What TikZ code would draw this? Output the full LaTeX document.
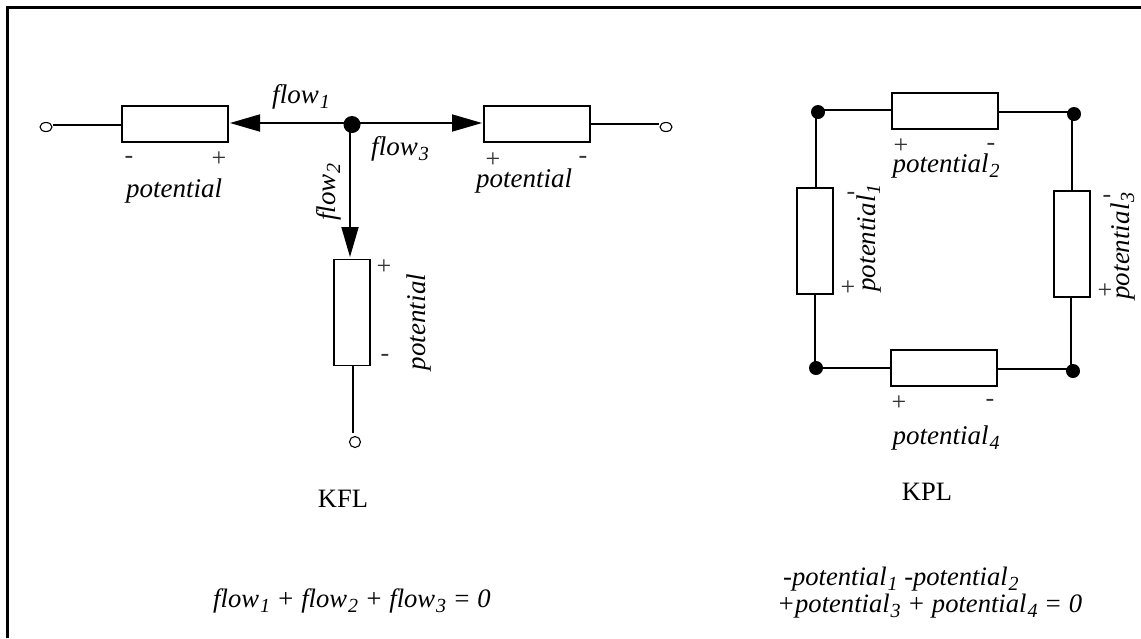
\documentclass[tikz,border=0pt]{standalone}
\usepackage{fontspec}
\setmainfont{Liberation Serif}
\usetikzlibrary{arrows.meta,shapes.geometric}
\newcommand\subs[1]{\kern1pt\raisebox{-5pt}{\fontsize{20}{20}\selectfont #1}}
\tikzset{
  x=1pt,y=-1pt,
  wire/.style={line width=1.8pt,line cap=butt},
  box/.style={draw,line width=1.8pt,fill=white,inner sep=0pt},
  hbox/.style={box,minimum width=106pt,minimum height=36pt},
  vbox/.style={box,minimum width=36pt,minimum height=106pt},
  dot/.style={circle,fill=black,inner sep=0pt,minimum size=17pt},
  sdot/.style={circle,fill=black,inner sep=0pt,minimum size=14pt},
  port/.style={ellipse,draw,line width=1.1pt,fill=white,inner sep=0pt,minimum width=12pt,minimum height=9pt},
  it/.style={inner sep=0pt,anchor=base,font=\fontsize{27}{30}\selectfont\itshape},
  eqn/.style={inner sep=0pt,font=\fontsize{26.6}{30}\selectfont\itshape},
  sign/.style={inner sep=0pt,font=\fontsize{26}{28}\selectfont,text=black!80},
  rm/.style={inner sep=0pt,anchor=base,font=\fontsize{26.5}{30}\selectfont},
  tip/.style={-{Triangle[length=30pt,width=17pt]}},
}
\begin{document}
\begin{tikzpicture}
\useasboundingbox (0,0) rectangle (1141,638);
\draw[line width=3pt] (7.5,638) -- (7.5,7.5) -- (1141,7.5);
% KFL
\node[hbox] (b1) at (175,124) {};
\node[hbox] (b2) at (537,124) {};
\node[vbox] (b3) at (352,312.5) {};
\node[dot] (n) at (352,124.5) {};
\node[port] (p1) at (46,127) {};
\node[port] (p2) at (666,127) {};
\node[port,minimum width=11pt,minimum height=11pt] (p3) at (355,442) {};
\coordinate (a1) at (230,123);
\coordinate (a2) at (482,123);
\coordinate (a3) at (350,257);
\draw[wire] (53,125) -- (b1.west|-0,125);
\draw[wire,tip] (n.center|-a1) -- (a1);
\draw[wire,tip] (n.center|-a2) -- (a2);
\draw[wire,tip] (a3|-n.center) -- (a3);
\draw[wire] (b2.east|-0,124) -- (659,124);
\draw[wire] (353,366) -- (353,433);
\node[it] at (301,103) {flow\subs{1}};
\node[it] at (400,155) {flow\subs{3}};
\node[it,rotate=90] at (335,192) {flow\subs{2}};
\node[it] at (174,197) {potential};
\node[it] at (524,187) {potential};
\node[it,rotate=90] at (425,322) {potential};
\node[sign] at (129,160) {-};
\node[sign] at (219,159) {+};
\node[sign] at (493,160) {+};
\node[sign] at (583,160) {-};
\node[sign] at (384,267) {+};
\node[sign] at (385,358) {-};
\node[rm] at (343,507) {KFL};
\node[eqn,anchor=base] at (352,607) {flow\subs{1} + flow\subs{2} + flow\subs{3} = 0};
% KPL
\node[hbox] (t) at (945,111) {};
\node[hbox] (u) at (944,368) {};
\node[vbox] (l) at (815,241) {};
\node[vbox] (r) at (1072,244) {};
\node[sdot] (tl) at (818,112) {};
\node[sdot] (tr) at (1074,114) {};
\node[sdot] (bl) at (816,368) {};
\node[sdot] (br) at (1073,371) {};
\draw[wire] (tl.center|-0,110) -- (t.west|-0,110);
\draw[wire] (t.east|-0,112) -- (tr.center|-0,112);
\draw[wire] (816,112) -- (816,188);
\draw[wire] (1072,114) -- (1072,191);
\draw[wire] (815,294) -- (815,368);
\draw[wire] (1071,297) -- (1071,371);
\draw[wire] (bl.center|-0,368) -- (u.west|-0,368);
\draw[wire] (u.east|-0,369) -- (br.center|-0,369);
\node[sign] at (901,146) {+};
\node[sign] at (991,147) {-};
\node[it] at (946,172) {potential\subs{2}};
\node[sign] at (848,288) {+};
\node[sign] at (851,196) {-};
\node[it,rotate=90] at (875,238) {potential\subs{1}};
\node[sign] at (1105,291) {+};
\node[sign] at (1107,199) {-};
\node[it,rotate=90] at (1129,246) {potential\subs{3}};
\node[sign] at (899,403) {+};
\node[sign] at (990,403) {-};
\node[it] at (946,444) {potential\subs{4}};
\node[rm] at (927,500) {KPL};
\node[eqn,anchor=base west] at (783,585) {-potential\subs{1} -potential\subs{2}};
\node[eqn,anchor=base west] at (777,612) {+potential\subs{3} + potential\subs{4} = 0};
\end{tikzpicture}
\end{document}
